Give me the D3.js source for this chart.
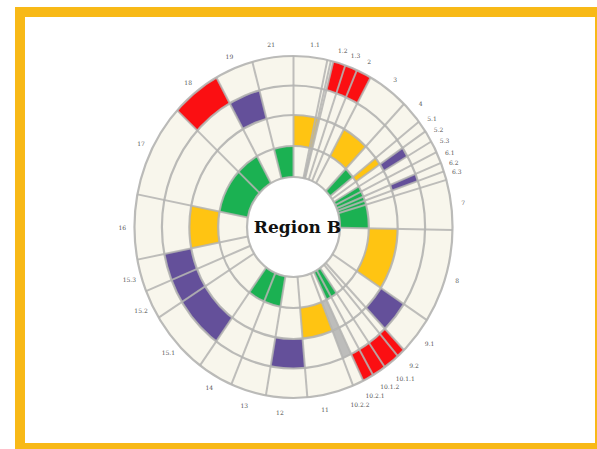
<!DOCTYPE html>
<html><head><meta charset="utf-8">
<script src="https://cdn.jsdelivr.net/npm/d3@7"></script>
<style>html,body{margin:0;padding:0;background:#fff;overflow:hidden}</style>
</head><body><svg id="c" width="597" height="449"></svg>
<script>
// ---- data ----
const sectorLabels = ["21","1.1","1.2","1.3","2","3","4","5.1","5.2","5.3","6.1","6.2","6.3","7","8","9.1","9.2","10.1.1","10.1.2","10.2.1","10.2.2","11","12","13","14","15.1","15.2","15.3","16","17","18","19"];
// sector boundaries in degrees, clockwise from 12 o'clock
const sectorBounds = [-15,0,14.5,19,23.5,29,44,52,56,60,64,68,71,74,91,123,136,139,145,150,154,158,175,190,203,216,238,248,259,281,313,331,345];
const extraGuides = [12.3, 13.6];
const ringLevels = [0,1,2,3,4];
const greenCells  = ["21","4","5.3","6.1","6.2","6.3","7","10.1.2","10.2.1","13","14","17","18"]; // ring 1
const yellowCells = ["1.1","3","5.1","8","11","16"];                                           // ring 2
const purpleCells = ["19","5.2","6.2","9.1","12","15.1","15.2","15.3"];                        // ring 3
const redCells    = ["18","1.2","1.3","2","9.2","10.1.1","10.1.2","10.2.1"];                   // ring 4
const greyCellsRing2 = ["10.2.2"];
const greyCellsRing3 = ["10.2.2"];
const centerTitle = "Region B";

// ---- layout ----
const W = 597, H = 449;
const cx = 293.5, cy = 227, sx = 0.93;
const rScale = d3.scaleLinear().domain(ringLevels).range([50, 81, 112, 141.5, 171]);
const aScale = d3.scaleLinear().domain([0, 360]).range([0, 2 * Math.PI]);
const colors = {green:"#1bb152", yellow:"#ffc412", purple:"#64509a", red:"#fb0f12", grey:"#bdbdbb"};
// label placement tweaks for the crowded lower-right labels: [angle shift, radius]
const labelTweak = {"9.1":[-1,187],"9.2":[-0.5,190],"10.1.1":[-0.5,193],"10.1.2":[-0.5,190],"10.2.1":[0.5,190],"10.2.2":[2,191],"11":[3,186],"12":[2,186],"13":[0,186]};

const svg = d3.select("#c");
svg.append("rect").attr("width", W).attr("height", H).attr("fill", "#fff");
svg.append("rect").attr("x", 20).attr("y", 12).attr("width", 580).attr("height", 436)
  .attr("fill", "#fff").attr("stroke", "#f8b917").attr("stroke-width", 10);

const g = svg.append("g").attr("transform", `translate(${cx},${cy}) scale(${sx},1)`);
const arc = d3.arc();

g.append("path").attr("d", arc({innerRadius: rScale(0), outerRadius: rScale(4), startAngle: 0, endAngle: 2 * Math.PI}))
  .attr("fill", "#f8f6ec");

const cells = [];
const add = (list, ring, color) => list.forEach(l => cells.push({label: l, ring, color}));
add(greenCells, 1, colors.green);
add(yellowCells, 2, colors.yellow);
add(purpleCells, 3, colors.purple);
add(redCells, 4, colors.red);
add(greyCellsRing2, 2, colors.grey);
add(greyCellsRing3, 3, colors.grey);

g.selectAll("path.cell").data(cells).join("path").attr("class", "cell")
  .attr("d", d => {
    const i = sectorLabels.indexOf(d.label);
    return arc({innerRadius: rScale(d.ring - 1), outerRadius: rScale(d.ring),
      startAngle: aScale(sectorBounds[i]), endAngle: aScale(sectorBounds[i + 1])});
  })
  .attr("fill", d => d.color);

g.selectAll("circle.ring").data(ringLevels).join("circle").attr("class", "ring")
  .attr("r", d => rScale(d)).attr("fill", "none")
  .attr("stroke", "#b4b4b2").attr("stroke-width", 2.2).attr("vector-effect", "non-scaling-stroke").attr("opacity", 0.9);

const spokeAngles = sectorBounds.slice(0, -1).concat(extraGuides);
g.selectAll("line.spoke").data(spokeAngles).join("line").attr("class", "spoke")
  .attr("x1", d => rScale(0) * Math.sin(aScale(d))).attr("y1", d => -rScale(0) * Math.cos(aScale(d)))
  .attr("x2", d => rScale(4) * Math.sin(aScale(d))).attr("y2", d => -rScale(4) * Math.cos(aScale(d)))
  .attr("stroke", "#b4b4b2").attr("stroke-width", 2).attr("vector-effect", "non-scaling-stroke").attr("opacity", 0.85);

const labelPos = sectorLabels.map((d, i) => {
  const t = labelTweak[d] || [0, 184];
  const a = aScale((sectorBounds[i] + sectorBounds[i + 1]) / 2 + t[0]);
  return {text: d, x: cx + sx * t[1] * Math.sin(a), y: cy - t[1] * Math.cos(a)};
});
svg.append("g").selectAll("text").data(labelPos).join("text")
  .attr("x", d => d.x).attr("y", d => d.y)
  .attr("text-anchor", "middle").attr("dominant-baseline", "central")
  .attr("font-family", "DejaVu Serif").attr("font-size", 6).attr("fill", "#555")
  .text(d => d.text);

svg.append("text").attr("x", cx + 4).attr("y", cy).attr("text-anchor", "middle").attr("dominant-baseline", "central")
  .attr("font-family", "DejaVu Serif").attr("font-weight", "bold").attr("font-size", 17).attr("fill", "#111")
  .text(centerTitle);
</script></body></html>
